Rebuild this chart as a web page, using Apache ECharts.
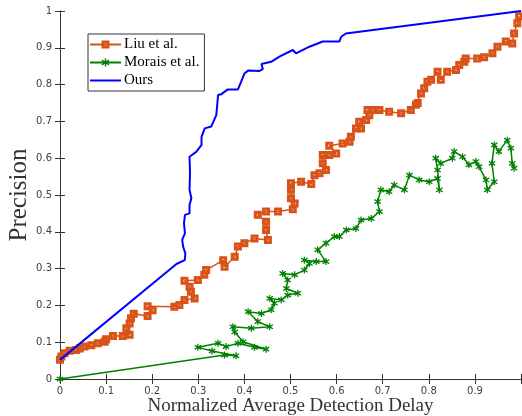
<!DOCTYPE html>
<html>
<head>
<meta charset="utf-8">
<script src="https://cdn.jsdelivr.net/npm/echarts@6/dist/echarts.min.js"></script>
<style>html,body{margin:0;padding:0;background:#fff}#c{width:522px;height:416px}</style>
</head>
<body>
<div id="c"></div>
<script>
var xTicks = [0, 0.1, 0.2, 0.3, 0.4, 0.5, 0.6, 0.7, 0.8, 0.9, 1];
var yTicks = [0, 0.1, 0.2, 0.3, 0.4, 0.5, 0.6, 0.7, 0.8, 0.9, 1];
var seriesNames = ['Liu et al.', 'Morais et al.', 'Ours'];

var liuData = [
[0,0.052],[0.003,0.061],[0.01,0.07],[0.021,0.077],[0.035,0.079],[0.043,0.083],[0.053,0.088],[0.068,0.092],
[0.082,0.097],[0.097,0.101],[0.1,0.108],[0.115,0.117],[0.136,0.117],[0.151,0.12],[0.144,0.138],[0.151,0.151],
[0.154,0.165],[0.16,0.177],[0.19,0.171],[0.201,0.187],[0.19,0.198],[0.248,0.196],[0.259,0.201],[0.27,0.215],
[0.292,0.219],[0.284,0.237],[0.281,0.251],[0.27,0.267],[0.299,0.269],[0.313,0.283],[0.317,0.296],[0.354,0.323],
[0.357,0.305],[0.379,0.332],[0.386,0.36],[0.4,0.369],[0.422,0.382],[0.451,0.378],[0.447,0.405],[0.447,0.427],
[0.429,0.446],[0.447,0.455],[0.473,0.455],[0.505,0.461],[0.509,0.477],[0.501,0.491],[0.501,0.514],[0.501,0.532],
[0.523,0.536],[0.545,0.53],[0.552,0.554],[0.563,0.559],[0.577,0.568],[0.57,0.586],[0.57,0.609],[0.584,0.609],
[0.599,0.613],[0.584,0.634],[0.613,0.64],[0.628,0.645],[0.631,0.658],[0.642,0.681],[0.653,0.681],[0.649,0.699],
[0.664,0.704],[0.671,0.717],[0.667,0.731],[0.678,0.731],[0.693,0.731],[0.714,0.726],[0.74,0.722],[0.761,0.731],
[0.772,0.745],[0.776,0.75],[0.783,0.776],[0.79,0.79],[0.797,0.808],[0.805,0.813],[0.819,0.835],[0.826,0.813],
[0.84,0.835],[0.859,0.84],[0.866,0.853],[0.877,0.862],[0.88,0.871],[0.905,0.871],[0.92,0.874],[0.938,0.885],
[0.949,0.903],[0.967,0.917],[0.981,0.912],[0.985,0.939],[0.992,0.967],[0.996,0.986]
];

var moraisData = [
[0,0],[0.357,0.065],[0.382,0.063],[0.33,0.076],[0.299,0.086],[0.343,0.097],[0.36,0.088],[0.386,0.097],
[0.422,0.086],[0.447,0.081],[0.397,0.101],[0.379,0.128],[0.375,0.142],[0.415,0.138],[0.455,0.142],[0.429,0.156],
[0.408,0.183],[0.437,0.178],[0.458,0.188],[0.465,0.206],[0.455,0.219],[0.48,0.215],[0.494,0.228],[0.516,0.233],
[0.491,0.246],[0.494,0.269],[0.483,0.287],[0.509,0.283],[0.53,0.296],[0.541,0.314],[0.53,0.323],[0.556,0.319],
[0.577,0.319],[0.559,0.351],[0.577,0.369],[0.595,0.387],[0.606,0.387],[0.621,0.405],[0.642,0.409],[0.653,0.432],
[0.675,0.436],[0.693,0.455],[0.689,0.482],[0.696,0.514],[0.714,0.509],[0.725,0.527],[0.747,0.514],[0.758,0.554],
[0.779,0.541],[0.801,0.536],[0.819,0.545],[0.823,0.514],[0.819,0.568],[0.815,0.6],[0.826,0.586],[0.851,0.6],
[0.855,0.618],[0.873,0.604],[0.887,0.582],[0.902,0.591],[0.909,0.577],[0.924,0.541],[0.927,0.514],[0.942,0.536],
[0.937,0.586],[0.942,0.636],[0.952,0.618],[0.97,0.649],[0.978,0.627],[0.981,0.586],[0.985,0.573]
];

var oursData = [
[0,0.052],[0.2526,0.3125],[0.2706,0.323],[0.272,0.341],[0.267,0.36],[0.265,0.378],[0.271,0.396],[0.269,0.423],
[0.271,0.446],[0.281,0.45],[0.281,0.473],[0.285,0.491],[0.281,0.514],[0.282,0.559],[0.281,0.604],[0.296,0.618],
[0.307,0.636],[0.307,0.658],[0.314,0.681],[0.328,0.686],[0.339,0.717],[0.343,0.772],[0.35,0.774],[0.364,0.787],
[0.386,0.787],[0.393,0.808],[0.4,0.83],[0.408,0.838],[0.433,0.837],[0.44,0.842],[0.437,0.856],[0.458,0.862],
[0.476,0.876],[0.505,0.894],[0.512,0.885],[0.541,0.903],[0.57,0.917],[0.606,0.917],[0.61,0.93],[0.62,0.939],
[1,1]
];

var starPath = 'path://M-0.9,-5L0.9,-5L0.9,-1.7L4,-3.7L5,-2.1L1.8,0L5,2.1L4,3.7L0.9,1.7L0.9,5L-0.9,5L-0.9,1.7L-4,3.7L-5,2.1L-1.8,0L-5,-2.1L-4,-3.7L-0.9,-1.7Z';
var squarePath = 'path://M0,0L10,0L10,10L0,10Z M3.8,3.8L3.8,6.2L6.2,6.2L6.2,3.8Z';

var axisCol = '#333333';
var tickLabel = {color: '#404040', fontFamily: 'DejaVu Sans', fontSize: 10};

var chart = echarts.init(document.getElementById('c'), null, {renderer: 'canvas'});
chart.setOption({
  animation: false,
  backgroundColor: '#ffffff',
  grid: {left: 60, right: 1, top: 11, bottom: 37, containLabel: false, outerBoundsMode: 'none'},
  legend: {
    data: [
      {name: seriesNames[0]},
      {name: seriesNames[1]},
      {name: seriesNames[2], itemStyle: {opacity: 0}}
    ],
    orient: 'vertical',
    left: 88, top: 34,
    itemWidth: 31, itemHeight: 10, itemGap: 3,
    padding: [3, 5, 3, 1],
    borderColor: '#333', borderWidth: 1, backgroundColor: '#fff',
    textStyle: {fontFamily: 'Liberation Serif', fontSize: 15, color: '#000', padding: [0,0,0,-2]}
  },
  xAxis: [{
    type: 'value', min: 0, max: 1, interval: 0.1,
    name: 'Normalized Average Detection Delay', nameLocation: 'middle', nameGap: 18, nameMoveOverlap: false,
    nameTextStyle: {fontFamily: 'Liberation Serif', fontSize: 19, color: '#333', verticalAlign: 'top'},
    axisLine: {show: true, lineStyle: {color: axisCol, width: 1}},
    axisTick: {show: true, inside: true, length: 5, lineStyle: {color: axisCol}},
    axisLabel: Object.assign({margin: 7, formatter: function (v) { return v >= 1 ? '' : String(Math.round(v * 10) / 10); }}, tickLabel),
    splitLine: {show: false}
  }, {
    type: 'value', min: 0, max: 1, interval: 0.1, position: 'top',
    axisLine: {show: true, lineStyle: {color: axisCol, width: 1}},
    axisTick: {show: true, inside: true, length: 5, lineStyle: {color: axisCol}},
    axisLabel: {show: false}, splitLine: {show: false}
  }],
  yAxis: [{
    type: 'value', min: 0, max: 1, interval: 0.1,
    name: 'Precision', nameLocation: 'middle', nameGap: 28, nameRotate: 90, nameMoveOverlap: false,
    nameTextStyle: {fontFamily: 'Liberation Serif', fontSize: 25, color: '#333', verticalAlign: 'bottom'},
    axisLine: {show: true, lineStyle: {color: axisCol, width: 1}},
    axisTick: {show: true, inside: true, length: 5, lineStyle: {color: axisCol}},
    axisLabel: Object.assign({margin: 8, formatter: function (v) { return String(Math.round(v * 10) / 10); }}, tickLabel),
    splitLine: {show: false}
  }, {
    type: 'value', min: 0, max: 1, interval: 0.1, position: 'right',
    axisLine: {show: true, lineStyle: {color: axisCol, width: 1}},
    axisTick: {show: true, inside: true, length: 5, lineStyle: {color: axisCol}},
    axisLabel: {show: false}, splitLine: {show: false}
  }],
  series: [{
    name: seriesNames[0], type: 'line', data: liuData,
    symbol: squarePath, symbolSize: 8, showAllSymbol: true,
    lineStyle: {color: '#D95319', width: 1.5},
    itemStyle: {color: '#D95319'},
    z: 3
  }, {
    name: seriesNames[1], type: 'line', data: moraisData,
    symbol: starPath, symbolSize: 7, showAllSymbol: true,
    lineStyle: {color: '#008000', width: 1.5},
    itemStyle: {color: '#008000'},
    z: 2
  }, {
    name: seriesNames[2], type: 'line', data: oursData,
    symbol: 'none', showSymbol: false,
    lineStyle: {color: '#0000FF', width: 2},
    itemStyle: {color: '#0000FF'},
    z: 4
  }]
});
</script>
</body>
</html>
